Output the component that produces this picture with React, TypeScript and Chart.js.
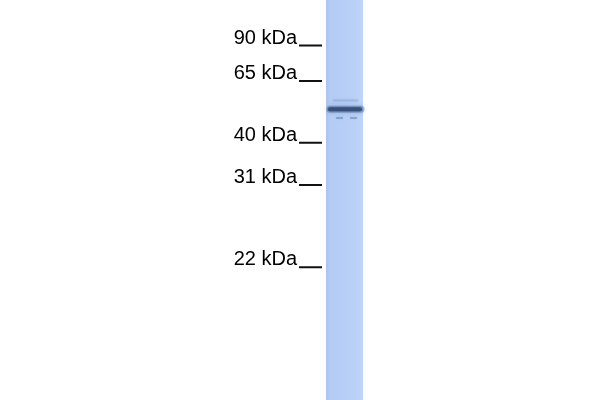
import { useEffect, useRef } from "react";
import { Chart, registerables } from "chart.js";

Chart.register(...registerables);

// marker ladder (relative mobility, 0 = top of the image)
const markerLabels = ["90 kDa", "65 kDa", "40 kDa", "31 kDa", "22 kDa"];
const markerMobility = [0.114, 0.2025, 0.357, 0.4625, 0.668];

// bands seen in the sample lane
const bandMobility = [0.273, 0.251, 0.295];
const bandAlpha = [0.9, 0.35, 0.45];

// horizontal layout (x units = canvas px)
const LANE_LEFT = 326;
const LANE_RIGHT = 363;
const TICK_LEFT = 299;
const TICK_RIGHT = 322;
const LABEL_RIGHT = 297;

// soft edges for the bands, done with canvas shadows
const glowPlugin = {
	id: "glow",
	beforeDatasetDraw(chart, args) {
		const ds: any = chart.data.datasets[args.index];
		if (ds.glow) {
			chart.ctx.save();
			chart.ctx.shadowColor = ds.glowColor;
			chart.ctx.shadowBlur = ds.glow;
		}
	},
	afterDatasetDraw(chart, args) {
		const ds: any = chart.data.datasets[args.index];
		if (ds.glow) chart.ctx.restore();
	},
};

const labelPlugin = {
	id: "markerLabels",
	afterDatasetsDraw(chart) {
		const { ctx, scales } = chart;
		ctx.save();
		ctx.font = '20px "Liberation Sans", Arial, sans-serif';
		ctx.fillStyle = "#000";
		ctx.textAlign = "right";
		ctx.textBaseline = "alphabetic";
		markerLabels.forEach((label, i) => {
			const y = scales.y.getPixelForValue(markerMobility[i]);
			ctx.fillText(label, scales.x.getPixelForValue(LABEL_RIGHT), y - 2);
		});
		ctx.restore();
	},
};

const App = () => {
	const chartRef = useRef<HTMLCanvasElement | null>(null);

	useEffect(() => {
		const ctx = chartRef.current.getContext("2d");

		const tickPoints: any[] = [];
		markerMobility.forEach((m) => {
			tickPoints.push({ x: TICK_LEFT, y: m }, { x: TICK_RIGHT, y: m }, { x: TICK_RIGHT + 1, y: null });
		});

		const laneColor = (c) => {
			const chart = c.chart;
			if (!chart.chartArea) return "#b5cdf6";
			const x0 = chart.scales.x.getPixelForValue(LANE_LEFT);
			const x1 = chart.scales.x.getPixelForValue(LANE_RIGHT);
			const g = chart.ctx.createLinearGradient(x0, 0, x1, 0);
			g.addColorStop(0, "#a9c4f0");
			g.addColorStop(0.12, "#b4ccf4");
			g.addColorStop(0.6, "#b8cff6");
			g.addColorStop(1, "#bed4f8");
			return g;
		};

		const mid = (LANE_LEFT + LANE_RIGHT) / 2;

		// lower "order" is painted later (on top)
		const myChart = new Chart(ctx, {
			type: "line",
			data: {
				datasets: [
					{
						label: "lane",
						order: 10,
						data: [
							{ x: mid, y: 0 },
							{ x: mid, y: 1 },
						],
						borderColor: laneColor,
						borderWidth: LANE_RIGHT - LANE_LEFT,
						borderCapStyle: "butt",
						pointRadius: 0,
					},
					{
						label: "upper band",
						order: 5,
						data: [
							{ x: LANE_LEFT + 7, y: bandMobility[1] },
							{ x: LANE_RIGHT - 5, y: bandMobility[1] },
						],
						borderColor: `rgba(120,150,200,${bandAlpha[1]})`,
						borderWidth: 2,
						pointRadius: 0,
						glow: 3,
						glowColor: "rgba(120,150,200,0.5)",
					} as any,
					{
						label: "main band glow",
						order: 4,
						data: [
							{ x: LANE_LEFT + 4, y: bandMobility[0] },
							{ x: LANE_RIGHT - 2, y: bandMobility[0] },
						],
						borderColor: `rgba(85,115,165,${bandAlpha[0] * 0.5})`,
						borderWidth: 7,
						borderCapStyle: "round",
						pointRadius: 0,
						glow: 4,
						glowColor: "rgba(85,115,165,0.6)",
					} as any,
					{
						label: "main band",
						order: 3,
						data: [
							{ x: LANE_LEFT + 4, y: bandMobility[0] },
							{ x: LANE_RIGHT - 3, y: bandMobility[0] },
						],
						borderColor: `rgba(52,80,120,${bandAlpha[0]})`,
						borderWidth: 4,
						borderCapStyle: "round",
						pointRadius: 0,
						glow: 2,
						glowColor: "rgba(52,80,120,0.8)",
					} as any,
					{
						label: "lower band",
						order: 2,
						data: [
							{ x: LANE_LEFT + 10, y: bandMobility[2] },
							{ x: LANE_LEFT + 17, y: bandMobility[2] },
							{ x: LANE_LEFT + 18, y: null },
							{ x: LANE_LEFT + 24, y: bandMobility[2] },
							{ x: LANE_LEFT + 31, y: bandMobility[2] },
						],
						borderColor: `rgba(95,125,175,${bandAlpha[2]})`,
						borderWidth: 2,
						pointRadius: 0,
						spanGaps: false,
						glow: 2,
						glowColor: "rgba(95,125,175,0.5)",
					} as any,
					{
						label: "ladder",
						order: 0,
						data: tickPoints,
						borderColor: "#111",
						borderWidth: 2,
						borderCapStyle: "butt",
						pointRadius: 0,
						spanGaps: false,
					},
				],
			},
			options: {
				responsive: false,
				animation: false,
				events: [],
				layout: { padding: 0 },
				plugins: {
					legend: { display: false },
					tooltip: { enabled: false },
				},
				scales: {
					x: { type: "linear", min: 0, max: 600, display: false },
					y: { type: "linear", min: 0, max: 1, reverse: true, display: false },
				},
			},
			plugins: [glowPlugin, labelPlugin],
		});

		return () => {
			myChart.destroy();
		};
	}, []);

	return (
		<div style={{ position: "fixed", left: 0, top: 0, width: 600, height: 400, background: "#fff" }}>
			<canvas ref={chartRef} width={600} height={400} />
		</div>
	);
};

export default App;
